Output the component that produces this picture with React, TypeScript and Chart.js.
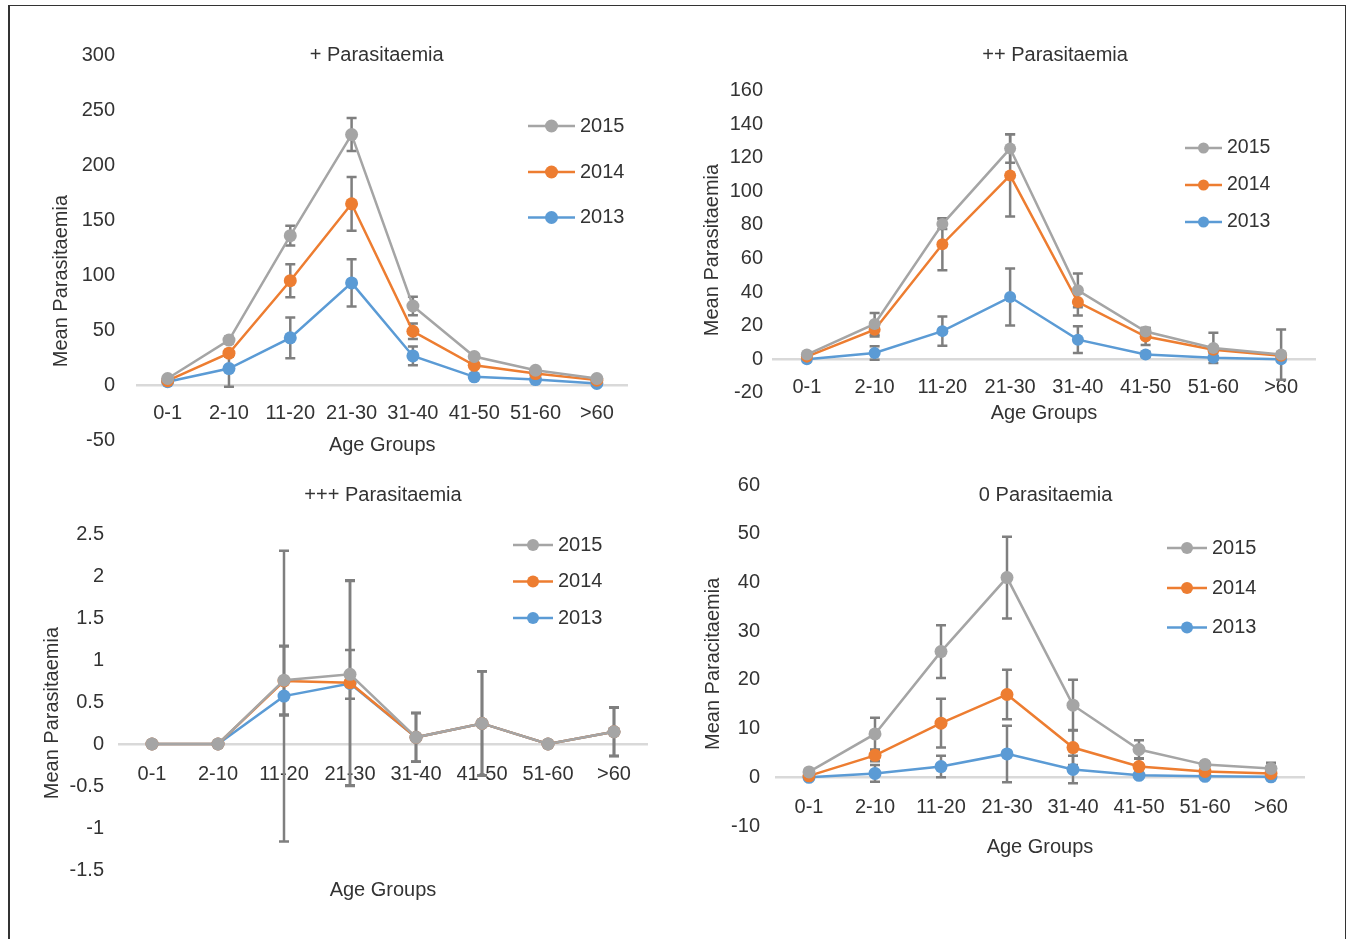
import React, { useEffect, useRef } from "react";
import { Chart, registerables } from "chart.js";

Chart.register(...registerables);

// ---------- data ----------
const ageGroups = ["0-1", "2-10", "11-20", "21-30", "31-40", "41-50", "51-60", ">60"];
const seriesLabels = ["2015", "2014", "2013"];

// + Parasitaemia
const plus2015 = [6, 41, 136, 228, 72, 26, 13.5, 6];
const plus2014 = [4, 29, 95, 165, 49, 18, 10.5, 4.5];
const plus2013 = [3, 15, 43, 93, 26.5, 7.5, 5, 1.5];
const plusErr2015 = [1, 3, 9, 15, 8.5, 2, 1.5, 1];
const plusErr2014 = [1, 3, 15, 24.5, 7, 2, 1, 1];
const plusErr2013 = [1, 16.5, 18.5, 21.5, 8.5, 2, 1, 1];

// ++ Parasitaemia
const plus2x2015 = [2.7, 21, 80.5, 125.5, 41, 16.5, 6.7, 2.7];
const plus2x2014 = [1.5, 17.5, 68.5, 109.5, 34, 13.5, 5.6, 2];
const plus2x2013 = [0, 3.7, 16.7, 37, 11.6, 2.8, 0.8, 0];
const plus2xErr2015 = [1, 6.5, 3, 8.5, 10, 2, 9, 15];
const plus2xErr2014 = [1, 4, 15.5, 24.5, 8, 5, 2, 2];
const plus2xErr2013 = [0.5, 4, 8.7, 17, 8, 1.5, 1, 0.5];

// +++ Parasitaemia
const plus3x2015 = [0, 0, 0.76, 0.83, 0.08, 0.245, 0, 0.146];
const plus3x2014 = [0, 0, 0.75, 0.73, 0.08, 0.245, 0, 0.146];
const plus3x2013 = [0, 0, 0.57, 0.72, 0.08, 0.245, 0, 0.146];
const plus3xErr2015 = [0, 0, 0.41, 0.29, 0.29, 0.62, 0, 0.29];
const plus3xErr2014 = [0, 0, 0.41, 1.22, 0.29, 0.62, 0, 0.29];
const plus3xErr2013 = [0, 0, 1.73, 1.22, 0.29, 0.62, 0, 0.29];

// 0 Parasitaemia
const zero2015 = [1.1, 8.9, 25.8, 41, 14.8, 5.7, 2.6, 1.8];
const zero2014 = [0.3, 4.5, 11.1, 17, 6.1, 2.2, 1.2, 0.8];
const zero2013 = [0, 0.8, 2.2, 4.8, 1.6, 0.4, 0.2, 0.1];
const zeroErr2015 = [0.5, 3.3, 5.4, 8.4, 5.2, 1.9, 0.6, 1.2];
const zeroErr2014 = [0.3, 1.2, 5, 5.1, 3.6, 1.7, 0.5, 0.3];
const zeroErr2013 = [0.2, 1.7, 2.2, 5.8, 2.8, 0.4, 0.3, 0.2];

// y-axis tick ranges [min, max, step]
const plusTicks = [-50, 300, 50];
const plus2xTicks = [-20, 160, 20];
const plus3xTicks = [-1.5, 2.5, 0.5];
const zeroTicks = [-10, 60, 10];

// ---------- styles ----------
const seriesColors = ["#a5a5a5", "#ed7d31", "#5b9bd5"];
const textColor = "#333333";
const errColor = "#7f7f7f";
const FONT = "'Liberation Sans', Arial, Helvetica, sans-serif";
const NBSP = "\u00a0";

Chart.defaults.font.family = FONT;
Chart.defaults.font.size = 20;
Chart.defaults.color = textColor;

const errorBarPlugin = {
  id: "errorBars",
  beforeDatasetsDraw(chart: any) {
    const ctx = chart.ctx;
    const yScale = chart.scales.y;
    const cap = 5;
    ctx.save();
    ctx.strokeStyle = errColor;
    ctx.lineWidth = 2.5;
    chart.data.datasets.forEach((ds: any, di: number) => {
      const errs = ds.errorBars;
      if (!errs) return;
      const meta = chart.getDatasetMeta(di);
      meta.data.forEach((pt: any, i: number) => {
        const e = errs[i];
        if (!e) return;
        const v = ds.data[i];
        const yt = yScale.getPixelForValue(v + e);
        const yb = yScale.getPixelForValue(v - e);
        const x = pt.x;
        ctx.beginPath();
        ctx.moveTo(x, yt);
        ctx.lineTo(x, yb);
        ctx.moveTo(x - cap, yt);
        ctx.lineTo(x + cap, yt);
        ctx.moveTo(x - cap, yb);
        ctx.lineTo(x + cap, yb);
        ctx.stroke();
      });
    });
    ctx.restore();
  },
};

const insideLegendPlugin = {
  id: "insideLegend",
  afterDatasetsDraw(chart: any, _args: any, opts: any) {
    if (!opts || !opts.rows) return;
    const ctx = chart.ctx;
    ctx.save();
    chart.data.datasets.forEach((ds: any, i: number) => {
      const y = opts.rows[i];
      ctx.strokeStyle = ds.borderColor;
      ctx.lineWidth = 2.5;
      ctx.beginPath();
      ctx.moveTo(opts.x1, y);
      ctx.lineTo(opts.x2, y);
      ctx.stroke();
      ctx.fillStyle = ds.borderColor;
      ctx.beginPath();
      ctx.arc((opts.x1 + opts.x2) / 2, y, opts.radius, 0, Math.PI * 2);
      ctx.fill();
      ctx.fillStyle = textColor;
      ctx.font = `${opts.fontSize}px ${FONT}`;
      ctx.textAlign = "left";
      ctx.textBaseline = "middle";
      ctx.fillText(ds.label, opts.textX, y);
    });
    ctx.restore();
  },
};

type PanelCfg = {
  title: string;
  titleLead: number;
  titleTrail: number;
  yTitle: string;
  yNbsp: number;
  values: number[][];
  errors: number[][];
  ticks: number[];
  left: number;
  top: number;
  width: number;
  height: number;
  padRight: number;
  padBottom: number;
  yWidth: number;
  yTitlePadTop: number;
  yTickPad: number;
  titlePad: { top: number; bottom: number };
  xTickPad: number;
  xAxisH: number;
  xTitlePadB: number;
  pointRadius: number;
  legend: { x1: number; x2: number; textX: number; rows: number[]; radius: number; fontSize: number };
};

const panels: PanelCfg[] = [
  {
    title: "+ Parasitaemia",
    titleLead: 0,
    titleTrail: 2,
    yTitle: "Mean Parasitaemia",
    yNbsp: 12,
    values: [plus2015, plus2014, plus2013],
    errors: [plusErr2015, plusErr2014, plusErr2013],
    ticks: plusTicks,
    left: 40, top: 30, width: 598, height: 490, padRight: 10.5, padBottom: 80,
    yWidth: 97, yTitlePadTop: 9, yTickPad: 22,
    titlePad: { top: 13, bottom: -11.5 },
    xTickPad: 16, xAxisH: 80, xTitlePadB: 8,
    pointRadius: 6.5,
    legend: { x1: 528, x2: 575, textX: 580, rows: [126, 172, 217.5], radius: 6.5, fontSize: 20 },
  },
  {
    title: "++ Parasitaemia",
    titleLead: 4,
    titleTrail: 0,
    yTitle: "Mean Parasitaemia",
    yNbsp: 3,
    values: [plus2x2015, plus2x2014, plus2x2013],
    errors: [plus2xErr2015, plus2xErr2014, plus2xErr2013],
    ticks: plus2xTicks,
    left: 690, top: 30, width: 635, height: 450, padRight: 10, padBottom: 87.3,
    yWidth: 83, yTitlePadTop: 10, yTickPad: 10,
    titlePad: { top: 13, bottom: 23.7 },
    xTickPad: 16.8, xAxisH: 87.3, xTitlePadB: 21.2,
    pointRadius: 6,
    legend: { x1: 1185, x2: 1222, textX: 1227, rows: [148, 185, 222], radius: 5.5, fontSize: 19.5 },
  },
  {
    title: "+++ Parasitaemia",
    titleLead: 0,
    titleTrail: 0,
    yTitle: "Mean Parasitaemia",
    yNbsp: 4,
    values: [plus3x2015, plus3x2014, plus3x2013],
    errors: [plus3xErr2015, plus3xErr2014, plus3xErr2013],
    ticks: plus3xTicks,
    left: 30, top: 470, width: 627, height: 469, padRight: 10, padBottom: 69,
    yWidth: 89, yTitlePadTop: 10, yTickPad: 15,
    titlePad: { top: 13, bottom: 27 },
    xTickPad: 18, xAxisH: 160, xTitlePadB: 2,
    pointRadius: 6.5,
    legend: { x1: 513, x2: 553, textX: 558, rows: [545, 581.5, 618], radius: 6, fontSize: 20 },
  },
  {
    title: "0 Parasitaemia",
    titleLead: 2,
    titleTrail: 0,
    yTitle: "Mean Paracitaemia",
    yNbsp: 3,
    values: [zero2015, zero2014, zero2013],
    errors: [zeroErr2015, zeroErr2014, zeroErr2013],
    ticks: zeroTicks,
    left: 690, top: 470, width: 624, height: 450, padRight: 10, padBottom: 94,
    yWidth: 86, yTitlePadTop: 11, yTickPad: 16,
    titlePad: { top: 13, bottom: -22 },
    xTickPad: 18, xAxisH: 94, xTitlePadB: 12.3,
    pointRadius: 6.5,
    legend: { x1: 1167, x2: 1207, textX: 1212, rows: [548, 588, 627.5], radius: 6, fontSize: 20 },
  },
];

function Panel({ cfg }: { cfg: PanelCfg }) {
  const ref = useRef<HTMLCanvasElement | null>(null);
  useEffect(() => {
    if (!ref.current) return;
    const [yMin, yMax, yStep] = cfg.ticks;
    const chart = new Chart(ref.current, {
      type: "line",
      data: {
        labels: ageGroups,
        datasets: seriesLabels.map((lab, i) => ({
          label: lab,
          data: cfg.values[i],
          errorBars: cfg.errors[i],
          borderColor: seriesColors[i],
          backgroundColor: seriesColors[i],
          pointBackgroundColor: seriesColors[i],
          pointBorderColor: seriesColors[i],
          pointBorderWidth: 0,
          pointRadius: cfg.pointRadius,
          borderWidth: 2.5,
          tension: 0,
          fill: false,
        })) as any,
      },
      options: {
        animation: false,
        responsive: true,
        maintainAspectRatio: false,
        events: [],
        layout: { padding: { left: 0, top: 0, right: cfg.padRight, bottom: cfg.padBottom } },
        plugins: {
          legend: { display: false },
          tooltip: { enabled: false },
          title: {
            display: true,
            text: NBSP.repeat(cfg.titleLead) + cfg.title + NBSP.repeat(cfg.titleTrail),
            fullSize: false,
            color: textColor,
            font: { size: 20, weight: "normal" },
            padding: cfg.titlePad,
          },
          insideLegend: {
            x1: cfg.legend.x1 - cfg.left,
            x2: cfg.legend.x2 - cfg.left,
            textX: cfg.legend.textX - cfg.left,
            rows: cfg.legend.rows.map((r) => r - cfg.top),
            radius: cfg.legend.radius,
            fontSize: cfg.legend.fontSize,
          },
        } as any,
        scales: {
          x: {
            type: "category",
            offset: true,
            position: { y: 0 } as any,
            grid: { display: true, color: "rgba(0,0,0,0)", drawTicks: false },
            border: { display: true, color: "#d9d9d9", width: 2.5 },
            ticks: {
              padding: cfg.xTickPad,
              color: textColor,
              font: { size: 20 },
              autoSkip: false,
              maxRotation: 0,
              minRotation: 0,
            },
            title: {
              display: true,
              text: "Age Groups",
              color: textColor,
              font: { size: 20 },
              padding: { top: 0, bottom: cfg.xTitlePadB },
            },
            afterFit: (s: any) => {
              s.height = cfg.xAxisH;
              s.paddingLeft = 0;
              s.paddingRight = 0;
            },
          },
          y: {
            type: "linear",
            min: yMin,
            max: yMax,
            grid: { display: false, drawTicks: false },
            border: { display: false },
            ticks: {
              stepSize: yStep,
              padding: cfg.yTickPad,
              color: textColor,
              font: { size: 20 },
              callback: (v: any) => String(v),
            },
            title: {
              display: true,
              text: cfg.yTitle + NBSP.repeat(cfg.yNbsp),
              color: textColor,
              font: { size: 20 },
              padding: { top: cfg.yTitlePadTop, bottom: 0 },
            },
            afterFit: (s: any) => {
              s.width = cfg.yWidth;
              s.paddingTop = 0;
              s.paddingBottom = 0;
            },
          },
        },
      },
      plugins: [errorBarPlugin, insideLegendPlugin],
    });
    return () => chart.destroy();
  }, [cfg]);
  return (
    <div
      style={{
        position: "absolute",
        left: cfg.left,
        top: cfg.top,
        width: cfg.width,
        height: cfg.height,
      }}
    >
      <canvas ref={ref} />
    </div>
  );
}

export default function App() {
  return (
    <div
      style={{
        position: "absolute",
        left: 0,
        top: 0,
        width: 1346,
        height: 939,
        overflow: "hidden",
        background: "#ffffff",
      }}
    >
      <div
        style={{
          position: "absolute",
          left: 8,
          top: 5,
          width: 1338,
          height: 940,
          boxSizing: "border-box",
          borderTop: "1.5px solid #333",
          borderLeft: "2px solid #333",
          borderRight: "1.5px solid #333",
        }}
      />
      {panels.map((p, i) => (
        <Panel key={i} cfg={p} />
      ))}
    </div>
  );
}
